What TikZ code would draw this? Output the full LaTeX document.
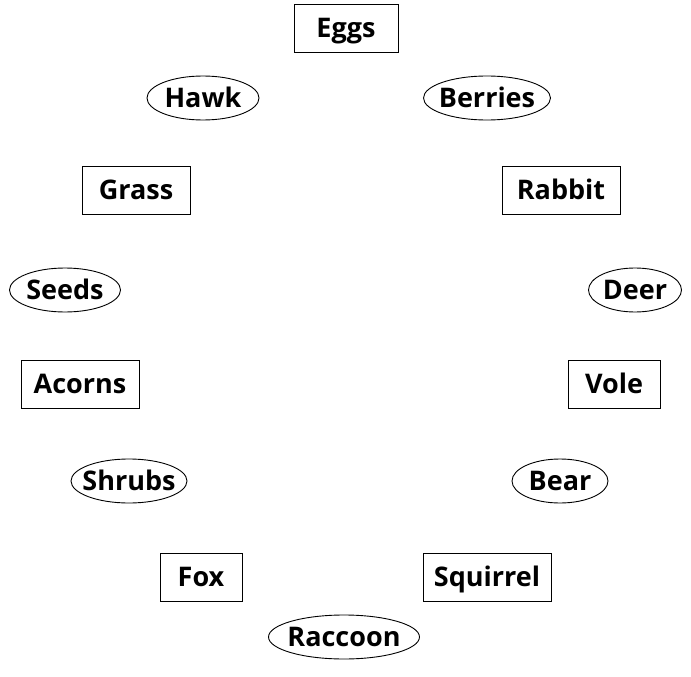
\documentclass[tikz,border=0pt]{standalone}
\usepackage{fontspec}
\setmainfont{Open Sans}
\usetikzlibrary{shapes.geometric}
\newcommand{\zw}[1]{\makebox[0pt]{#1}}
\begin{document}
\begin{tikzpicture}[x=1pt,y=-1pt,
  every node/.style={font=\fontsize{27}{30}\selectfont\bfseries, inner sep=0pt, text height=19pt, text depth=0pt},
  boxnode/.style={draw, line width=0.9pt, rectangle, minimum height=48pt},
  ellnode/.style={draw, line width=0.9pt, ellipse, minimum height=44pt}]
\useasboundingbox (0,0) rectangle (691,677);
\node[boxnode, minimum width=104pt] (eggs) at (346,28) {\zw{Eggs}};
\node[ellnode, minimum width=112pt] (hawk) at (203,98) {\zw{Hawk}};
\node[ellnode, minimum width=127pt] (berries) at (487,98) {\zw{Berries}};
\node[boxnode, minimum width=108pt] (grass) at (136,190) {\zw{Grass}};
\node[boxnode, minimum width=118pt] (rabbit) at (561,190) {\zw{Rabbit}};
\node[ellnode, minimum width=111pt] (seeds) at (65,290) {\zw{Seeds}};
\node[ellnode, minimum width=93pt] (deer) at (635,290) {\zw{Deer}};
\node[boxnode, minimum width=118pt] (acorns) at (80,384) {\zw{Acorns}};
\node[boxnode, minimum width=92pt] (vole) at (614,384) {\zw{Vole}};
\node[ellnode, minimum width=116pt] (shrubs) at (129,481) {\zw{Shrubs}};
\node[ellnode, minimum width=96pt] (bear) at (560,481) {\zw{Bear}};
\node[boxnode, minimum width=82pt] (fox) at (201,577) {\zw{Fox}};
\node[boxnode, minimum width=128pt] (squirrel) at (487,577) {\zw{Squirrel}};
\node[ellnode, minimum width=151pt] (raccoon) at (344,637) {\zw{Raccoon}};
\end{tikzpicture}
\end{document}
